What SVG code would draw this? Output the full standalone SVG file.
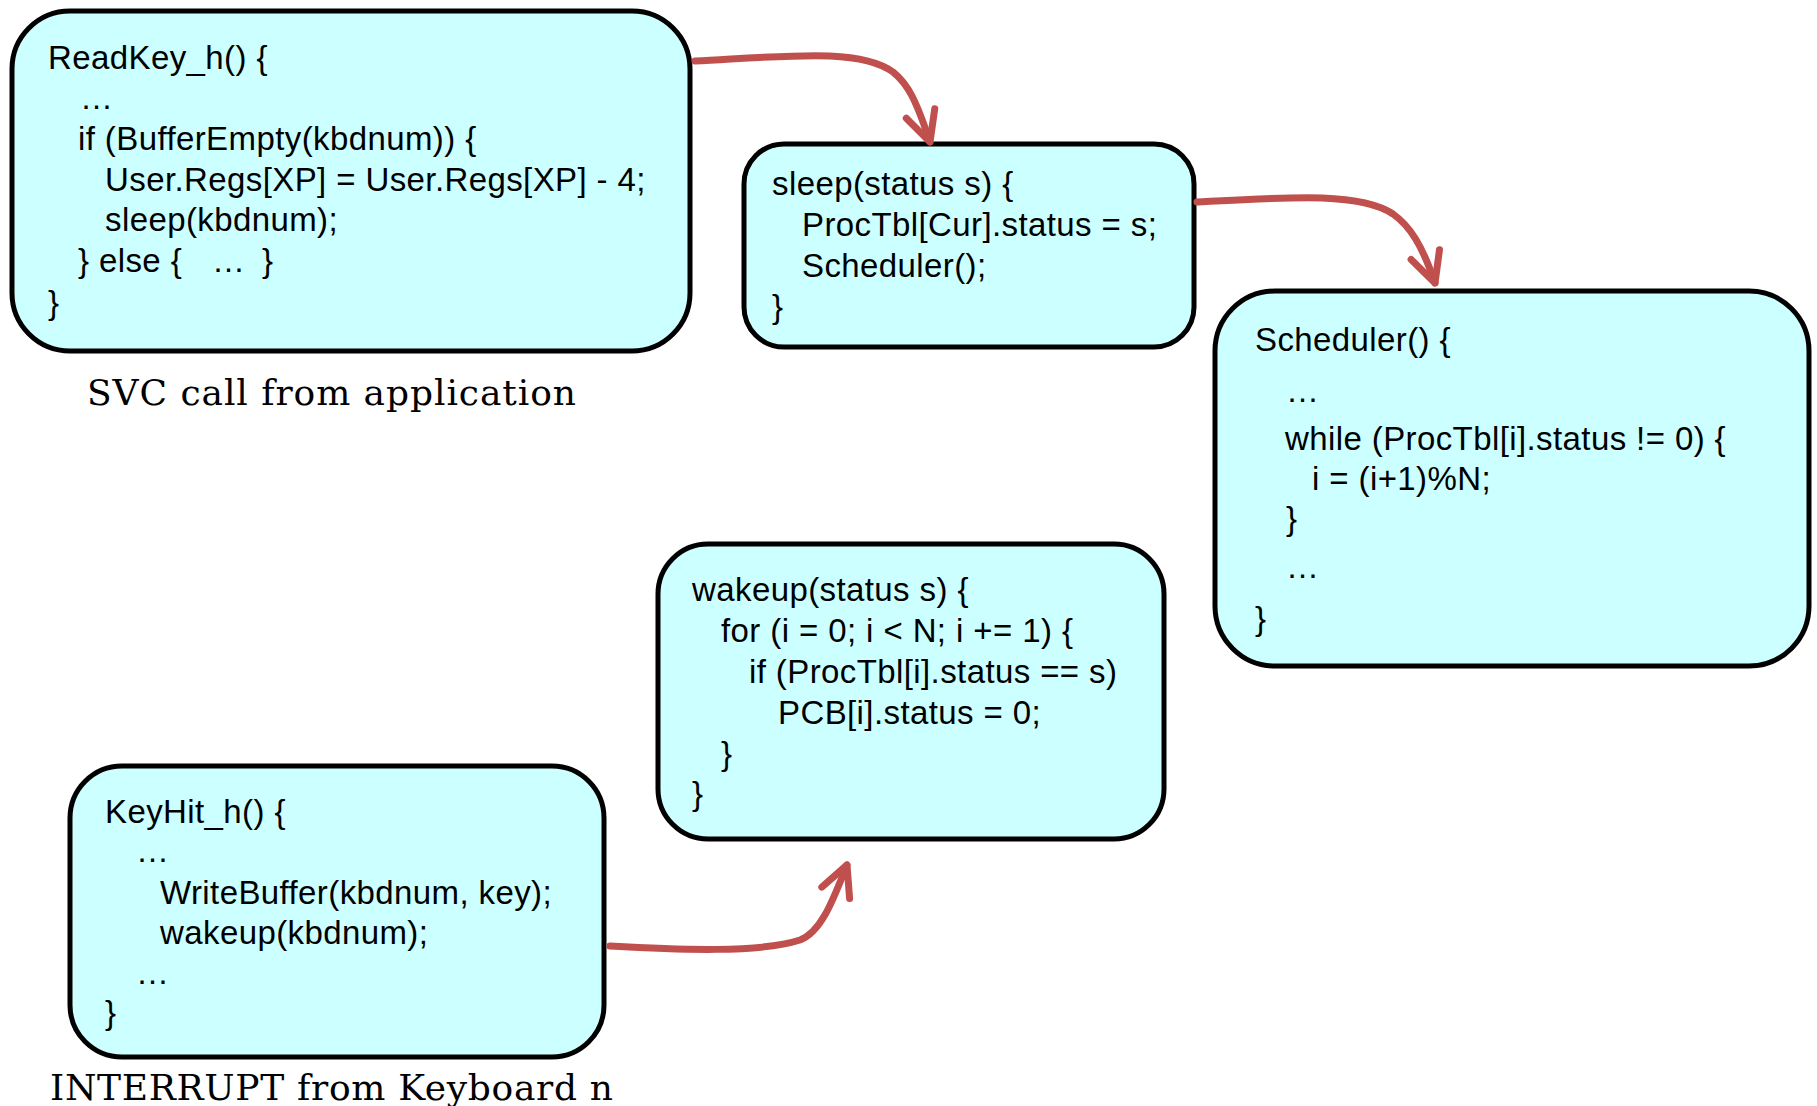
<svg xmlns="http://www.w3.org/2000/svg" width="1817" height="1106" viewBox="0 0 1817 1106">
<style>
.box { fill:#CCFFFF; stroke:#000; stroke-width:5; }
.code { font-family:"Liberation Sans", Arial, Helvetica, sans-serif; font-size:33px; letter-spacing:0.4px; fill:#000; }
.cap { font-family:"DejaVu Serif", "Liberation Serif", serif; font-size:36px; fill:#000; }
.conn { fill:none; stroke:#C0504D; stroke-width:7; stroke-linecap:round; stroke-linejoin:round; }
</style>
<defs>
<marker id="ah" markerUnits="userSpaceOnUse" orient="auto" markerWidth="60" markerHeight="60" viewBox="-40 -30 60 60" refX="0" refY="0" overflow="visible">
<path d="M -30 -15 L 0 0 L -30 15" fill="none" stroke="#C0504D" stroke-width="7" stroke-linecap="round" stroke-linejoin="round"/>
</marker>
</defs>
<rect width="1817" height="1106" fill="#fff"/>

<g id="readkey">
<rect class="box" x="12" y="11" width="678" height="340" rx="58" ry="58"/>
<text class="code" x="48" y="69">ReadKey_h() {</text>
<text class="code" x="80" y="109">…</text>
<text class="code" x="78" y="150">if (BufferEmpty(kbdnum)) {</text>
<text class="code" x="105" y="191">User.Regs[XP] = User.Regs[XP] - 4;</text>
<text class="code" x="105" y="231">sleep(kbdnum);</text>
<text class="code" x="78" y="272">} else {<tspan x="212">…</tspan><tspan x="262">}</tspan></text>
<text class="code" x="48" y="314">}</text>
</g>

<g id="svc-label">
<text class="cap" x="87" y="405" textLength="489" lengthAdjust="spacing">SVC call from application</text>
</g>

<g id="sleep">
<rect class="box" x="744" y="144" width="450" height="203" rx="40" ry="40"/>
<text class="code" x="772" y="195">sleep(status s) {</text>
<text class="code" x="802" y="236">ProcTbl[Cur].status = s;</text>
<text class="code" x="802" y="277">Scheduler();</text>
<text class="code" x="772" y="318">}</text>
</g>

<g id="scheduler">
<rect class="box" x="1215" y="291" width="594" height="375" rx="60" ry="60"/>
<text class="code" x="1255" y="351">Scheduler() {</text>
<text class="code" x="1286" y="402">…</text>
<text class="code" x="1285" y="450">while (ProcTbl[i].status != 0) {</text>
<text class="code" x="1312" y="490">i = (i+1)%N;</text>
<text class="code" x="1286" y="530">}</text>
<text class="code" x="1286" y="578">…</text>
<text class="code" x="1255" y="630">}</text>
</g>

<g id="wakeup">
<rect class="box" x="658" y="544" width="506" height="295" rx="50" ry="50"/>
<text class="code" x="692" y="601">wakeup(status s) {</text>
<text class="code" x="721" y="642">for (i = 0; i &lt; N; i += 1) {</text>
<text class="code" x="749" y="683">if (ProcTbl[i].status == s)</text>
<text class="code" x="778" y="724">PCB[i].status = 0;</text>
<text class="code" x="721" y="765">}</text>
<text class="code" x="692" y="805">}</text>
</g>

<g id="keyhit">
<rect class="box" x="70" y="766" width="534" height="291" rx="52" ry="52"/>
<text class="code" x="105" y="823">KeyHit_h() {</text>
<text class="code" x="136" y="862">…</text>
<text class="code" x="160" y="904">WriteBuffer(kbdnum, key);</text>
<text class="code" x="160" y="944">wakeup(kbdnum);</text>
<text class="code" x="136" y="984">…</text>
<text class="code" x="105" y="1024">}</text>
</g>

<g id="interrupt-label">
<text class="cap" x="50" y="1100" textLength="563" lengthAdjust="spacing">INTERRUPT from Keyboard n</text>
</g>

<g id="connectors">
<path class="conn" marker-end="url(#ah)" d="M 695 61 C 790 56, 860 48, 893 72 C 908 84, 916 100, 930 142"/>
<path class="conn" marker-end="url(#ah)" d="M 1197 202 C 1290 197, 1360 192, 1393 214 C 1410 226, 1422 245, 1435 283"/>
<path class="conn" marker-end="url(#ah)" d="M 610 946 C 680 950, 760 953, 800 940 C 822 932, 834 897, 847 865"/>
</g>
</svg>
